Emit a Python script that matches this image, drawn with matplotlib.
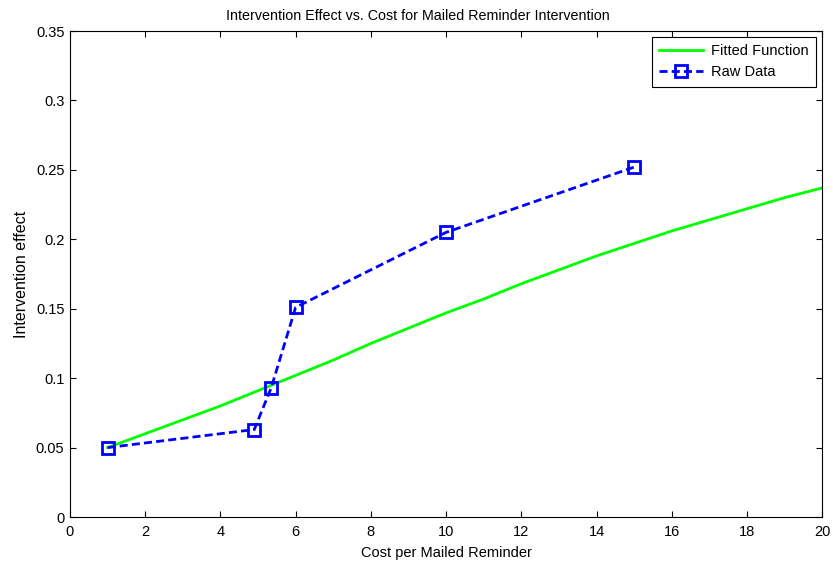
import matplotlib
matplotlib.use("Agg")
import matplotlib.pyplot as plt
from matplotlib.ticker import FuncFormatter

plt.rcParams["font.family"] = ["Liberation Sans", "DejaVu Sans"]
plt.rcParams["font.size"] = 10.5

# fitted curve, sampled at whole-unit costs
fit_cost = [1, 2, 3, 4, 5, 6, 7, 8, 9, 10, 11, 12, 13, 14, 15, 16, 17, 18, 19, 20]
fit_effect = [0.050, 0.060, 0.070, 0.080, 0.091, 0.102, 0.113, 0.125, 0.136, 0.147,
              0.157, 0.168, 0.178, 0.188, 0.197, 0.206, 0.214, 0.222, 0.230, 0.237]

# observed points
raw_cost = [1, 4.9, 5.35, 6, 10, 15]
raw_effect = [0.050, 0.063, 0.093, 0.151, 0.205, 0.252]

fig = plt.figure(figsize=(8.33, 5.61), dpi=100)
ax = fig.add_axes([0.084, 0.0784, 0.903, 0.8663])

ax.plot(fit_cost, fit_effect, color="#00ff00", linewidth=2.0, label="Fitted Function")
ax.plot(raw_cost, raw_effect, color="#0000ff", linestyle="--", dashes=(2.9, 1.5),
        linewidth=2.0, marker="s", markersize=8.5, markerfacecolor="none",
        markeredgewidth=2.0, label="Raw Data")

ax.set_xlim(0, 20)
ax.set_ylim(0, 0.35)
ax.set_xticks(range(0, 21, 2))
ax.set_yticks([0, 0.05, 0.1, 0.15, 0.2, 0.25, 0.3, 0.35])
ax.yaxis.set_major_formatter(FuncFormatter(lambda v, p: "%g" % round(v, 2)))
ax.tick_params(direction="in", top=True, right=True, length=4, width=0.8)
ax.tick_params(axis="x", pad=6)
ax.tick_params(axis="y", pad=4)
for s in ax.spines.values():
    s.set_linewidth(0.8)

ax.set_title("Intervention Effect vs. Cost for Mailed Reminder Intervention",
             x=0.463, pad=8, fontsize=10.3)
ax.set_xlabel("Cost per Mailed Reminder", labelpad=5, fontsize=10.5)
ax.set_ylabel("Intervention effect", labelpad=5, fontsize=11.5)

leg = ax.legend(loc="upper right", fancybox=False, framealpha=1, edgecolor="black",
                borderaxespad=0.4, handlelength=3.0, handletextpad=0.6,
                borderpad=0.5, labelspacing=0.5, fontsize=10.5)
leg.get_frame().set_linewidth(0.8)

fig.savefig("out.png", dpi=100)
